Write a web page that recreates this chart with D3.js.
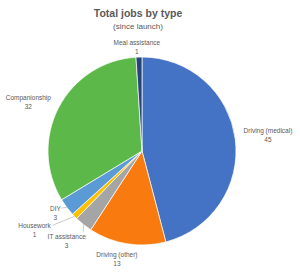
<!DOCTYPE html>
<html>
<head>
<meta charset="utf-8">
<script src="https://cdn.jsdelivr.net/npm/d3@7"></script>
<style>
  html, body { margin: 0; padding: 0; background: #fff; }
  svg { display: block; font-family: "Liberation Sans", Arial, sans-serif; }
</style>
</head>
<body>
<div id="chart"></div>
<script>
// data, clockwise from 12 o'clock
const categories = ["Driving (medical)", "Driving (other)", "IT assistance", "Housework", "DIY", "Companionship", "Meal assistance"];
const jobs = [45, 13, 3, 1, 3, 32, 1];
const colors = ["#4472C4", "#F97B10", "#A5A5A5", "#FFC000", "#5B9BD5", "#5DB84A", "#264478"];

const W = 300, H = 272;
const cx = 142, cy = 151, r = 94;

// label distance from centre (and angle nudge, degrees) - Excel best fit placement
const labelPlace = {
  "Driving (medical)": { d: 127 },
  "Driving (other)": { d: 110, da: 4 },
  "IT assistance": { d: 117, da: 1.5 },
  "Housework": { d: 133, da: 8 },
  "DIY": { d: 106, da: 1.5 },
  "Companionship": { d: 124, da: -4 },
  "Meal assistance": { d: 105, da: -1 }
};
const leaders = new Set(["IT assistance", "Housework", "DIY"]);

const svg = d3.select("#chart").append("svg")
  .attr("width", W).attr("height", H)
  .attr("viewBox", [0, 0, W, H]);

svg.append("text")
  .attr("x", 138).attr("y", 17)
  .attr("text-anchor", "middle")
  .attr("font-size", 10.5).attr("font-weight", 700)
  .attr("fill", "#595959")
  .text("Total jobs by type");

svg.append("text")
  .attr("x", 138).attr("y", 29)
  .attr("text-anchor", "middle")
  .attr("font-size", 8)
  .attr("fill", "#595959")
  .text("(since launch)");

const pie = d3.pie().sort(null).value(d => d.v);
const arcs = pie(categories.map((c, i) => ({ c, v: jobs[i], col: colors[i] })));
const arc = d3.arc().innerRadius(0).outerRadius(r);

const g = svg.append("g").attr("transform", `translate(${cx},${cy})`);

g.selectAll("path")
  .data(arcs)
  .join("path")
  .attr("d", arc)
  .attr("fill", d => d.data.col)
  .attr("stroke", "#fff")
  .attr("stroke-width", 0.7);

function polar(a, d) { return [d * Math.sin(a), -d * Math.cos(a)]; }

const labels = g.selectAll("g.lab")
  .data(arcs)
  .join("g")
  .attr("class", "lab")
  .attr("transform", d => {
    const p = labelPlace[d.data.c];
    const a = (d.startAngle + d.endAngle) / 2 + (p.da || 0) * Math.PI / 180;
    const [x, y] = polar(a, p.d);
    return `translate(${x},${y})`;
  });

labels.append("text")
  .attr("text-anchor", "middle")
  .attr("font-size", 6.5)
  .attr("fill", "#595959")
  .attr("y", -1.5)
  .text(d => d.data.c);

labels.append("text")
  .attr("text-anchor", "middle")
  .attr("font-size", 6.5)
  .attr("fill", "#595959")
  .attr("y", 7.5)
  .text(d => d.data.v);

// leader lines for the thin slices
g.selectAll("line.leader")
  .data(arcs.filter(d => leaders.has(d.data.c)))
  .join("line")
  .attr("class", "leader")
  .attr("stroke", "#A6A6A6")
  .attr("stroke-width", 0.6)
  .each(function (d) {
    const mid = (d.startAngle + d.endAngle) / 2;
    const [x1, y1] = polar(mid, r);
    const p = labelPlace[d.data.c];
    const a = mid + (p.da || 0) * Math.PI / 180;
    const [lx, ly] = polar(a, p.d);
    let x2, y2;
    if (d.data.c === "IT assistance") { x2 = x1; y2 = ly - 9; }
    else if (d.data.c === "Housework") { x2 = lx + 18; y2 = ly - 4; }
    else { x2 = lx + 6; y2 = ly - 4; }
    d3.select(this).attr("x1", x1).attr("y1", y1).attr("x2", x2).attr("y2", y2);
  });
</script>
</body>
</html>
